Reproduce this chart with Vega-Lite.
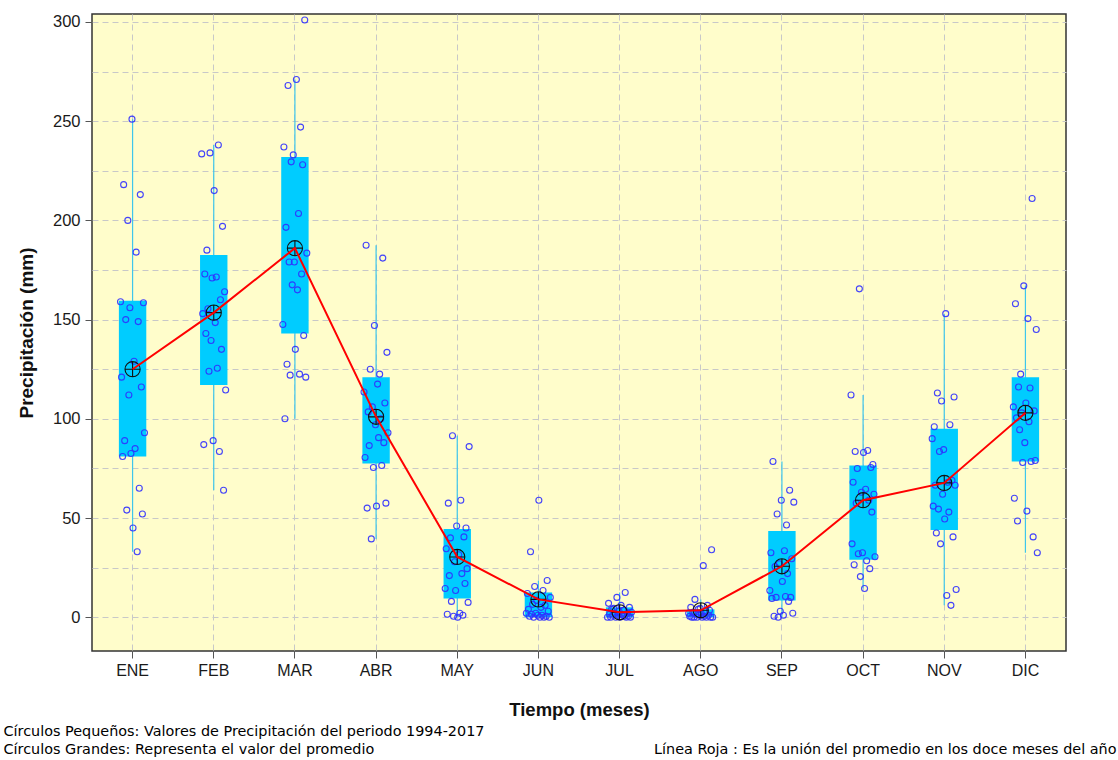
{
  "$schema": "https://vega.github.io/schema/vega-lite/v6.json",
  "width": 974,
  "height": 637,
  "autosize": {"type": "none"},
  "padding": {"left": 92, "top": 14, "right": 52, "bottom": 109},
  "background": "white",
  "config": {
    "view": {"fill": "#FFFDCB", "stroke": "#333333", "strokeWidth": 1.5},
    "font": "Liberation Sans"
  },
  "datasets": {
    "resumen": [
      {"mes": "ENE", "q1": 81, "q3": 159.5, "minimo": 33, "maximo": 251, "media": 125},
      {"mes": "FEB", "q1": 117, "q3": 182.5, "minimo": 64, "maximo": 238, "media": 153.5},
      {"mes": "MAR", "q1": 143, "q3": 232, "minimo": 100, "maximo": 271, "media": 186},
      {"mes": "ABR", "q1": 77.5, "q3": 121, "minimo": 39.5, "maximo": 187.5, "media": 101},
      {"mes": "MAY", "q1": 9.5, "q3": 44.5, "minimo": 0, "maximo": 91.5, "media": 30.4},
      {"mes": "JUN", "q1": 0, "q3": 12.5, "minimo": 0, "maximo": 18.5, "media": 9},
      {"mes": "JUL", "q1": 0, "q3": 5, "minimo": 0, "maximo": 12.5, "media": 2.5},
      {"mes": "AGO", "q1": 0, "q3": 4, "minimo": 0, "maximo": 9, "media": 3.5},
      {"mes": "SEP", "q1": 8.5, "q3": 43.5, "minimo": 0, "maximo": 78.5, "media": 25.7},
      {"mes": "OCT", "q1": 29, "q3": 76.5, "minimo": 14.5, "maximo": 112, "media": 59},
      {"mes": "NOV", "q1": 44, "q3": 95, "minimo": 6, "maximo": 153, "media": 67.7},
      {"mes": "DIC", "q1": 78.5, "q3": 121, "minimo": 32.5, "maximo": 167, "media": 103}
    ],
    "puntos": [
      {"mes":"ENE","anio":2005,"pp":251},{"mes":"ENE","anio":1997,"pp":218},{"mes":"ENE","anio":2013,"pp":213},{"mes":"ENE","anio":2001,"pp":200},{"mes":"ENE","anio":2009,"pp":184},{"mes":"ENE","anio":1994,"pp":159},{"mes":"ENE","anio":2016,"pp":158.5},{"mes":"ENE","anio":2003,"pp":156},{"mes":"ENE","anio":1999,"pp":150},{"mes":"ENE","anio":2011,"pp":149},{"mes":"ENE","anio":2007,"pp":129},{"mes":"ENE","anio":1995,"pp":121},{"mes":"ENE","anio":2014,"pp":116},{"mes":"ENE","anio":2002,"pp":112},{"mes":"ENE","anio":2017,"pp":93},{"mes":"ENE","anio":1998,"pp":89},{"mes":"ENE","anio":2008,"pp":85},{"mes":"ENE","anio":2004,"pp":82.5},{"mes":"ENE","anio":1996,"pp":81},{"mes":"ENE","anio":2012,"pp":65},{"mes":"ENE","anio":2000,"pp":54},{"mes":"ENE","anio":2015,"pp":52},{"mes":"ENE","anio":2006,"pp":45},{"mes":"ENE","anio":2010,"pp":33},
      {"mes":"FEB","anio":2010,"pp":238},{"mes":"FEB","anio":2002,"pp":234},{"mes":"FEB","anio":1994,"pp":233.5},{"mes":"FEB","anio":2006,"pp":215},{"mes":"FEB","anio":2014,"pp":197},{"mes":"FEB","anio":1999,"pp":185},{"mes":"FEB","anio":1997,"pp":173},{"mes":"FEB","anio":2008,"pp":171.5},{"mes":"FEB","anio":2004,"pp":171},{"mes":"FEB","anio":2016,"pp":164},{"mes":"FEB","anio":2012,"pp":160},{"mes":"FEB","anio":2000,"pp":155.5},{"mes":"FEB","anio":1995,"pp":153},{"mes":"FEB","anio":2007,"pp":148.5},{"mes":"FEB","anio":1998,"pp":143},{"mes":"FEB","anio":2003,"pp":139.5},{"mes":"FEB","anio":2013,"pp":135},{"mes":"FEB","anio":2009,"pp":125.5},{"mes":"FEB","anio":2001,"pp":124},{"mes":"FEB","anio":2017,"pp":114.5},{"mes":"FEB","anio":2005,"pp":89},{"mes":"FEB","anio":1996,"pp":87},{"mes":"FEB","anio":2011,"pp":83.5},{"mes":"FEB","anio":2015,"pp":64},
      {"mes":"MAR","anio":2015,"pp":301},{"mes":"MAR","anio":2007,"pp":271},{"mes":"MAR","anio":1999,"pp":268},{"mes":"MAR","anio":2011,"pp":247},{"mes":"MAR","anio":1995,"pp":237},{"mes":"MAR","anio":2004,"pp":233},{"mes":"MAR","anio":2002,"pp":229.5},{"mes":"MAR","anio":2013,"pp":228},{"mes":"MAR","anio":2009,"pp":203.5},{"mes":"MAR","anio":1997,"pp":196.5},{"mes":"MAR","anio":2017,"pp":183.5},{"mes":"MAR","anio":2005,"pp":179},{"mes":"MAR","anio":2000,"pp":179},{"mes":"MAR","anio":2012,"pp":173},{"mes":"MAR","anio":2003,"pp":167.5},{"mes":"MAR","anio":2008,"pp":165},{"mes":"MAR","anio":1994,"pp":147.5},{"mes":"MAR","anio":2014,"pp":142},{"mes":"MAR","anio":2006,"pp":135},{"mes":"MAR","anio":1998,"pp":127.5},{"mes":"MAR","anio":2010,"pp":122.5},{"mes":"MAR","anio":2001,"pp":122},{"mes":"MAR","anio":2016,"pp":121},{"mes":"MAR","anio":1996,"pp":100},
      {"mes":"ABR","anio":1996,"pp":187.5},{"mes":"ABR","anio":2012,"pp":181},{"mes":"ABR","anio":2004,"pp":147},{"mes":"ABR","anio":2016,"pp":133.5},{"mes":"ABR","anio":2000,"pp":125},{"mes":"ABR","anio":2009,"pp":122.5},{"mes":"ABR","anio":2007,"pp":117.5},{"mes":"ABR","anio":1994,"pp":113.5},{"mes":"ABR","anio":2014,"pp":108},{"mes":"ABR","anio":2002,"pp":106},{"mes":"ABR","anio":1998,"pp":103.5},{"mes":"ABR","anio":2010,"pp":100},{"mes":"ABR","anio":2005,"pp":97},{"mes":"ABR","anio":2017,"pp":93},{"mes":"ABR","anio":2008,"pp":90.5},{"mes":"ABR","anio":2013,"pp":88},{"mes":"ABR","anio":1999,"pp":86.5},{"mes":"ABR","anio":1995,"pp":80.5},{"mes":"ABR","anio":2011,"pp":76.5},{"mes":"ABR","anio":2003,"pp":75.5},{"mes":"ABR","anio":2015,"pp":57.5},{"mes":"ABR","anio":2006,"pp":56},{"mes":"ABR","anio":1997,"pp":55},{"mes":"ABR","anio":2001,"pp":39.5},
      {"mes":"MAY","anio":2001,"pp":91.5},{"mes":"MAY","anio":2017,"pp":86},{"mes":"MAY","anio":2009,"pp":59},{"mes":"MAY","anio":1997,"pp":57.5},{"mes":"MAY","anio":2005,"pp":46},{"mes":"MAY","anio":2014,"pp":45},{"mes":"MAY","anio":2012,"pp":40.5},{"mes":"MAY","anio":1999,"pp":40},{"mes":"MAY","anio":1995,"pp":34.5},{"mes":"MAY","anio":2007,"pp":31.5},{"mes":"MAY","anio":2003,"pp":28},{"mes":"MAY","anio":2015,"pp":24.5},{"mes":"MAY","anio":2010,"pp":22},{"mes":"MAY","anio":1998,"pp":21},{"mes":"MAY","anio":2013,"pp":17},{"mes":"MAY","anio":1994,"pp":14.5},{"mes":"MAY","anio":2004,"pp":13.5},{"mes":"MAY","anio":2000,"pp":8},{"mes":"MAY","anio":2016,"pp":7.5},{"mes":"MAY","anio":2008,"pp":2},{"mes":"MAY","anio":1996,"pp":1.5},{"mes":"MAY","anio":2011,"pp":1},{"mes":"MAY","anio":2002,"pp":0.5},{"mes":"MAY","anio":2006,"pp":0},
      {"mes":"JUN","anio":2006,"pp":59},{"mes":"JUN","anio":1998,"pp":33},{"mes":"JUN","anio":2014,"pp":18.5},{"mes":"JUN","anio":2002,"pp":15.5},{"mes":"JUN","anio":2010,"pp":13.5},{"mes":"JUN","anio":1995,"pp":12},{"mes":"JUN","anio":2017,"pp":10},{"mes":"JUN","anio":2004,"pp":8.5},{"mes":"JUN","anio":2000,"pp":6.5},{"mes":"JUN","anio":2012,"pp":6},{"mes":"JUN","anio":2008,"pp":5},{"mes":"JUN","anio":1996,"pp":4},{"mes":"JUN","anio":2015,"pp":3},{"mes":"JUN","anio":2003,"pp":2},{"mes":"JUN","anio":1994,"pp":2},{"mes":"JUN","anio":1999,"pp":1.5},{"mes":"JUN","anio":2009,"pp":1},{"mes":"JUN","anio":2005,"pp":1},{"mes":"JUN","anio":1997,"pp":0.5},{"mes":"JUN","anio":2013,"pp":0.5},{"mes":"JUN","anio":2001,"pp":0},{"mes":"JUN","anio":2016,"pp":0},{"mes":"JUN","anio":2007,"pp":0},{"mes":"JUN","anio":2011,"pp":0},
      {"mes":"JUL","anio":2011,"pp":12.5},{"mes":"JUL","anio":2003,"pp":10},{"mes":"JUL","anio":1995,"pp":7},{"mes":"JUL","anio":2007,"pp":6},{"mes":"JUL","anio":2015,"pp":5},{"mes":"JUL","anio":2000,"pp":4.5},{"mes":"JUL","anio":1998,"pp":4},{"mes":"JUL","anio":2009,"pp":3.5},{"mes":"JUL","anio":2005,"pp":3},{"mes":"JUL","anio":2017,"pp":2.5},{"mes":"JUL","anio":2013,"pp":2},{"mes":"JUL","anio":2001,"pp":2},{"mes":"JUL","anio":1996,"pp":1.5},{"mes":"JUL","anio":2008,"pp":1.5},{"mes":"JUL","anio":1999,"pp":1},{"mes":"JUL","anio":2004,"pp":1},{"mes":"JUL","anio":2014,"pp":0.5},{"mes":"JUL","anio":2010,"pp":0.5},{"mes":"JUL","anio":2002,"pp":0},{"mes":"JUL","anio":1994,"pp":0},{"mes":"JUL","anio":2006,"pp":0},{"mes":"JUL","anio":1997,"pp":0},{"mes":"JUL","anio":2012,"pp":0},{"mes":"JUL","anio":2016,"pp":0},
      {"mes":"AGO","anio":2016,"pp":34},{"mes":"AGO","anio":2008,"pp":26},{"mes":"AGO","anio":2000,"pp":9},{"mes":"AGO","anio":2012,"pp":6},{"mes":"AGO","anio":1996,"pp":5},{"mes":"AGO","anio":2005,"pp":4.5},{"mes":"AGO","anio":2003,"pp":4},{"mes":"AGO","anio":2014,"pp":3.5},{"mes":"AGO","anio":2010,"pp":3},{"mes":"AGO","anio":1998,"pp":2.5},{"mes":"AGO","anio":1994,"pp":2},{"mes":"AGO","anio":2006,"pp":2},{"mes":"AGO","anio":2001,"pp":1.5},{"mes":"AGO","anio":2013,"pp":1},{"mes":"AGO","anio":2004,"pp":1},{"mes":"AGO","anio":2009,"pp":0.5},{"mes":"AGO","anio":1995,"pp":0.5},{"mes":"AGO","anio":2015,"pp":0},{"mes":"AGO","anio":2007,"pp":0},{"mes":"AGO","anio":1999,"pp":0},{"mes":"AGO","anio":2011,"pp":0},{"mes":"AGO","anio":2002,"pp":0},{"mes":"AGO","anio":2017,"pp":0},{"mes":"AGO","anio":1997,"pp":0},
      {"mes":"SEP","anio":1997,"pp":78.5},{"mes":"SEP","anio":2013,"pp":64},{"mes":"SEP","anio":2005,"pp":59},{"mes":"SEP","anio":2017,"pp":58},{"mes":"SEP","anio":2001,"pp":52},{"mes":"SEP","anio":2010,"pp":46.5},{"mes":"SEP","anio":2008,"pp":33.5},{"mes":"SEP","anio":1995,"pp":32.5},{"mes":"SEP","anio":2015,"pp":29.5},{"mes":"SEP","anio":2003,"pp":27},{"mes":"SEP","anio":1999,"pp":25.5},{"mes":"SEP","anio":2011,"pp":22},{"mes":"SEP","anio":2006,"pp":18},{"mes":"SEP","anio":1994,"pp":13.5},{"mes":"SEP","anio":2009,"pp":10.5},{"mes":"SEP","anio":2014,"pp":10},{"mes":"SEP","anio":2000,"pp":10},{"mes":"SEP","anio":1996,"pp":9.5},{"mes":"SEP","anio":2012,"pp":8},{"mes":"SEP","anio":2004,"pp":3},{"mes":"SEP","anio":2016,"pp":2},{"mes":"SEP","anio":2007,"pp":1},{"mes":"SEP","anio":1998,"pp":0.5},{"mes":"SEP","anio":2002,"pp":0},
      {"mes":"OCT","anio":2002,"pp":165.5},{"mes":"OCT","anio":1994,"pp":112},{"mes":"OCT","anio":2010,"pp":84},{"mes":"OCT","anio":1998,"pp":83.5},{"mes":"OCT","anio":2006,"pp":83},{"mes":"OCT","anio":2015,"pp":77},{"mes":"OCT","anio":2013,"pp":75.5},{"mes":"OCT","anio":2000,"pp":75},{"mes":"OCT","anio":1996,"pp":68},{"mes":"OCT","anio":2008,"pp":64.5},{"mes":"OCT","anio":2004,"pp":63},{"mes":"OCT","anio":2016,"pp":62},{"mes":"OCT","anio":2011,"pp":59},{"mes":"OCT","anio":1999,"pp":57.5},{"mes":"OCT","anio":2014,"pp":53},{"mes":"OCT","anio":1995,"pp":37},{"mes":"OCT","anio":2005,"pp":32.5},{"mes":"OCT","anio":2001,"pp":32},{"mes":"OCT","anio":2017,"pp":30.5},{"mes":"OCT","anio":2009,"pp":28.5},{"mes":"OCT","anio":1997,"pp":26.5},{"mes":"OCT","anio":2012,"pp":24.5},{"mes":"OCT","anio":2003,"pp":20.5},{"mes":"OCT","anio":2007,"pp":14.5},
      {"mes":"NOV","anio":2007,"pp":153},{"mes":"NOV","anio":1999,"pp":113},{"mes":"NOV","anio":2015,"pp":111},{"mes":"NOV","anio":2003,"pp":109},{"mes":"NOV","anio":2011,"pp":97},{"mes":"NOV","anio":1996,"pp":96},{"mes":"NOV","anio":1994,"pp":90},{"mes":"NOV","anio":2005,"pp":84.5},{"mes":"NOV","anio":2001,"pp":83.5},{"mes":"NOV","anio":2013,"pp":69},{"mes":"NOV","anio":2009,"pp":68},{"mes":"NOV","anio":1997,"pp":66.5},{"mes":"NOV","anio":2016,"pp":66.5},{"mes":"NOV","anio":2004,"pp":62},{"mes":"NOV","anio":1995,"pp":56},{"mes":"NOV","anio":2000,"pp":54.5},{"mes":"NOV","anio":2010,"pp":53},{"mes":"NOV","anio":2006,"pp":49.5},{"mes":"NOV","anio":1998,"pp":42.5},{"mes":"NOV","anio":2014,"pp":40.5},{"mes":"NOV","anio":2002,"pp":37},{"mes":"NOV","anio":2017,"pp":14},{"mes":"NOV","anio":2008,"pp":11},{"mes":"NOV","anio":2012,"pp":6},
      {"mes":"DIC","anio":2012,"pp":211},{"mes":"DIC","anio":2004,"pp":167},{"mes":"DIC","anio":1996,"pp":158},{"mes":"DIC","anio":2008,"pp":150.5},{"mes":"DIC","anio":2016,"pp":145},{"mes":"DIC","anio":2001,"pp":122.5},{"mes":"DIC","anio":1999,"pp":116},{"mes":"DIC","anio":2010,"pp":115.5},{"mes":"DIC","anio":2006,"pp":108},{"mes":"DIC","anio":1994,"pp":106},{"mes":"DIC","anio":2014,"pp":104},{"mes":"DIC","anio":2002,"pp":103},{"mes":"DIC","anio":1997,"pp":100.5},{"mes":"DIC","anio":2009,"pp":98.5},{"mes":"DIC","anio":2000,"pp":94.5},{"mes":"DIC","anio":2005,"pp":88},{"mes":"DIC","anio":2015,"pp":79},{"mes":"DIC","anio":2011,"pp":78.5},{"mes":"DIC","anio":2003,"pp":78},{"mes":"DIC","anio":1995,"pp":60},{"mes":"DIC","anio":2007,"pp":53.5},{"mes":"DIC","anio":1998,"pp":48.5},{"mes":"DIC","anio":2013,"pp":40.5},{"mes":"DIC","anio":2017,"pp":32.5}
    ]
  },
  "layer": [
    {
      "data": {"name": "resumen"},
      "mark": {"type": "rule", "color": "#3EC6EC", "strokeWidth": 1.2},
      "encoding": {
        "x": {
          "field": "mes", "type": "nominal",
          "sort": ["ENE","FEB","MAR","ABR","MAY","JUN","JUL","AGO","SEP","OCT","NOV","DIC"],
          "scale": {"domain": ["ENE","FEB","MAR","ABR","MAY","JUN","JUL","AGO","SEP","OCT","NOV","DIC"], "paddingInner": 0, "paddingOuter": 0},
          "axis": {
            "title": "Tiempo (meses)", "labelAngle": 0, "labelFontSize": 16, "labelColor": "#1a1a1a",
            "labelPadding": 4, "tickSize": 7, "tickColor": "#555555", "domain": false,
            "grid": true, "gridColor": "#c8c8c8", "gridDash": [6, 4],
            "titleFontSize": 18.5, "titleFontWeight": "bold", "titleColor": "#111111", "titlePadding": 22
          }
        },
        "y": {
          "field": "minimo", "type": "quantitative", "title": "Precipitación (mm)",
          "scale": {"domain": [-17, 304], "nice": false, "zero": false},
          "axis": {
            "values": [0, 25, 50, 75, 100, 125, 150, 175, 200, 225, 250, 275, 300],
            "labelExpr": "datum.value % 50 === 0 ? datum.label : ''",
            "tickColor": {"condition": {"test": "datum.value % 50 === 0", "value": "#555555"}, "value": "transparent"},
            "tickSize": 7, "labelPadding": 5, "labelFontSize": 16.5, "labelColor": "#1a1a1a",
            "domain": false, "grid": true, "gridColor": "#c8c8c8", "gridDash": [6, 4],
            "titleFontSize": 19, "titleFontWeight": "bold", "titleColor": "#111111", "titlePadding": 16
          }
        },
        "y2": {"field": "maximo"}
      }
    },
    {
      "data": {"name": "resumen"},
      "mark": {"type": "rule", "color": "#00CCFF", "strokeWidth": 27.4, "strokeCap": "butt"},
      "encoding": {
        "x": {"field": "mes", "type": "nominal", "sort": ["ENE","FEB","MAR","ABR","MAY","JUN","JUL","AGO","SEP","OCT","NOV","DIC"], "axis": null},
        "y": {"field": "q1", "type": "quantitative", "title": "Precipitación (mm)"},
        "y2": {"field": "q3"}
      }
    },
    {
      "data": {"name": "puntos"},
      "mark": {"type": "point", "filled": false, "color": "#3030FF", "size": 36, "strokeWidth": 1.1, "opacity": 0.9},
      "encoding": {
        "x": {"field": "mes", "type": "nominal", "sort": ["ENE","FEB","MAR","ABR","MAY","JUN","JUL","AGO","SEP","OCT","NOV","DIC"], "axis": null},
        "xOffset": {"field": "anio", "type": "ordinal", "scale": {"range": [28, 53]}},
        "y": {"field": "pp", "type": "quantitative", "title": "Precipitación (mm)"}
      }
    },
    {
      "data": {"name": "resumen"},
      "mark": {"type": "point", "shape": "M-1,0L1,0M0,-1L0,1M1,0A1,1,0,1,1,-1,0A1,1,0,1,1,1,0", "filled": false, "stroke": "#111111", "strokeWidth": 1.1, "size": 230, "opacity": 1},
      "encoding": {
        "x": {
          "field": "mes", "type": "nominal", "sort": ["ENE","FEB","MAR","ABR","MAY","JUN","JUL","AGO","SEP","OCT","NOV","DIC"],
          "axis": {
            "orient": "bottom", "title": ["Círculos Pequeños: Valores de Precipitación del periodo 1994-2017", "Círculos Grandes: Representa el valor del promedio"],
            "domain": false, "ticks": false, "labels": false, "grid": false,
            "titleFont": "DejaVu Sans", "titleFontSize": 14.4, "titleFontWeight": "normal", "titleColor": "#000000",
            "titleX": -89, "titleY": 73, "titleAlign": "left", "titleBaseline": "top", "titleLineHeight": 18, "titleAngle": 0
          }
        },
        "y": {"field": "media", "type": "quantitative", "title": "Precipitación (mm)"}
      }
    },
    {
      "data": {"name": "resumen"},
      "mark": {"type": "line", "color": "#FF0000", "strokeWidth": 2},
      "encoding": {
        "x": {
          "field": "mes", "type": "nominal", "sort": ["ENE","FEB","MAR","ABR","MAY","JUN","JUL","AGO","SEP","OCT","NOV","DIC"],
          "axis": {
            "orient": "bottom", "title": "Línea Roja : Es la unión del promedio en los doce meses del año",
            "domain": false, "ticks": false, "labels": false, "grid": false,
            "titleFont": "DejaVu Sans", "titleFontSize": 14.4, "titleFontWeight": "normal", "titleColor": "#000000",
            "titleX": 1024, "titleY": 91, "titleAlign": "right", "titleBaseline": "top", "titleAngle": 0
          }
        },
        "y": {"field": "media", "type": "quantitative", "title": "Precipitación (mm)"}
      }
    }
  ],
  "resolve": {"axis": {"x": "independent"}}
}
